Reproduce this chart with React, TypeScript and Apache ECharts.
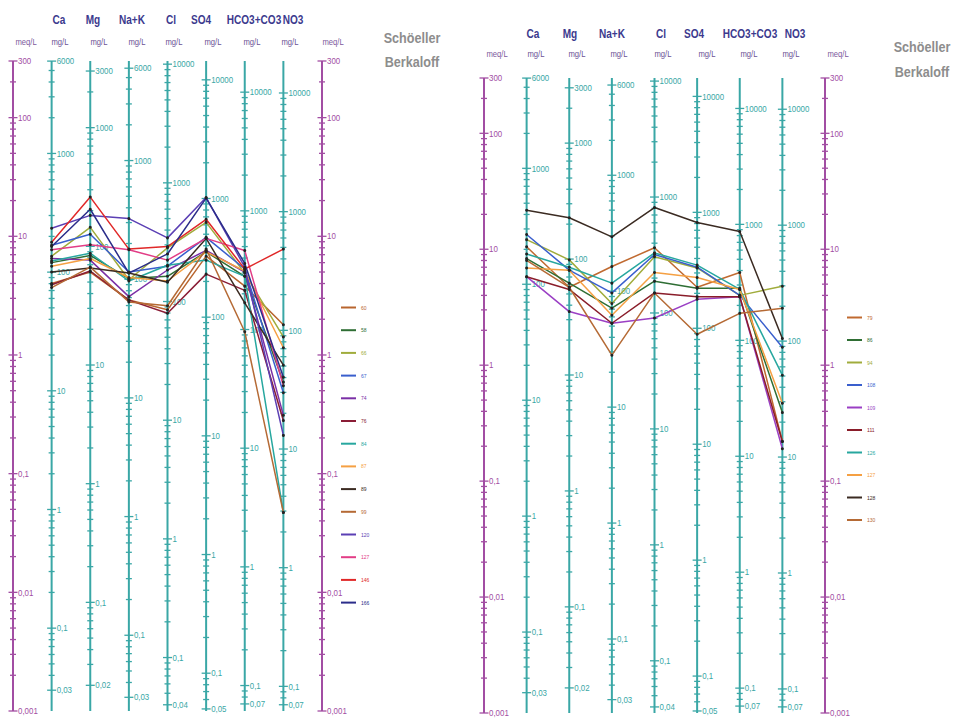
import React, { useEffect, useRef } from "react";
import * as echarts from "echarts";

// ---------- data ----------
const ION_NAMES = ["Ca", "Mg", "Na+K", "Cl", "SO4", "HCO3+CO3", "NO3"];
const EQ_WEIGHTS = [20.04, 12.15, 23.0, 35.45, 48.03, 61.02, 62.0];

const CA_TICK_LABELS = [6000, 1000, 100, 10, 1, 0.1, 0.03];
const MG_TICK_LABELS = [3000, 1000, 100, 10, 1, 0.1, 0.02];
const NAK_TICK_LABELS = [6000, 1000, 100, 10, 1, 0.1, 0.03];
const CL_TICK_LABELS = [10000, 1000, 100, 10, 1, 0.1, 0.04];
const SO4_TICK_LABELS = [10000, 1000, 100, 10, 1, 0.1, 0.05];
const HCO3_TICK_LABELS = [10000, 1000, 100, 10, 1, 0.1, 0.07];
const NO3_TICK_LABELS = [10000, 1000, 100, 10, 1, 0.1, 0.07];
const ION_TICK_LABELS = [
  CA_TICK_LABELS, MG_TICK_LABELS, NAK_TICK_LABELS, CL_TICK_LABELS,
  SO4_TICK_LABELS, HCO3_TICK_LABELS, NO3_TICK_LABELS,
];
const MEQ_TICK_LABELS = [300, 100, 10, 1, 0.1, 0.01, 0.001];
const MEQ_MIN = 0.001;
const MEQ_MAX = 300;

// left diagram (meq/L: Ca, Mg, Na+K, Cl, SO4, HCO3+CO3, NO3)
const LEFT_SAMPLES = ["60", "58", "66", "67", "74", "76", "84", "87", "89", "99", "120", "127", "146", "166"];
const LEFT_COLORS = ["#b8652e", "#2f6e34", "#a0ac3c", "#3a5fcd", "#7a2fa6", "#8a1d36", "#27a79f", "#f5a043", "#3b2b22", "#b56a35", "#5b3fb4", "#e23d86", "#e02828", "#2b2d8a"];
const LEFT_VALUES = [
  [4.0, 5.0, 2.9, 2.4, 6.8, 3.8, 1.8],
  [6.0, 6.9, 4.4, 4.6, 7.4, 4.6, 0.59],
  [6.8, 11.9, 4.3, 8.0, 13.1, 4.9, 1.42],
  [8.4, 10.4, 5.0, 5.6, 9.8, 5.3, 0.48],
  [6.5, 6.3, 3.1, 5.2, 7.6, 5.0, 0.31],
  [3.9, 5.1, 2.9, 2.25, 4.8, 3.5, 0.28],
  [6.2, 7.2, 4.2, 5.7, 6.3, 4.6, 0.047],
  [5.6, 6.5, 4.5, 4.2, 7.4, 5.1, 1.15],
  [5.0, 5.4, 4.9, 4.1, 9.6, 2.75, 0.82],
  [3.7, 5.5, 2.8, 2.6, 7.8, 1.57, 0.047],
  [11.7, 15.0, 14.1, 9.7, 21.2, 5.5, 0.21],
  [7.7, 8.5, 7.7, 6.3, 9.6, 7.6, 0.55],
  [8.9, 21.4, 7.8, 8.2, 13.9, 5.3, 7.8],
  [8.2, 16.9, 4.9, 7.1, 21.0, 5.9, 0.65],
];

// right diagram
const RIGHT_SAMPLES = ["79", "86", "94", "108", "109", "111", "126", "127", "128", "130"];
const RIGHT_COLORS = ["#c06a30", "#2f6e34", "#a0ac3c", "#3a5fcd", "#9a3fc4", "#8a1d2a", "#27a79f", "#f5a043", "#3b2b22", "#b56a35"];
const RIGHT_VALUES = [
  [10.5, 4.7, 7.1, 10.3, 4.7, 6.3, 0.22],
  [8.3, 5.1, 3.1, 5.3, 4.6, 4.6, 0.39],
  [12.1, 8.1, 3.4, 8.6, 6.9, 4.0, 4.8],
  [13.4, 6.6, 4.2, 9.0, 7.0, 4.0, 1.43],
  [5.8, 2.9, 2.3, 2.55, 3.7, 3.9, 0.19],
  [5.8, 4.5, 2.3, 4.2, 3.9, 3.9, 0.22],
  [9.1, 7.0, 5.1, 9.3, 7.3, 4.5, 0.82],
  [6.9, 6.6, 2.7, 6.3, 5.7, 4.5, 0.47],
  [21.7, 18.7, 12.8, 22.9, 17.0, 14.2, 1.7],
  [8.0, 4.7, 1.22, 4.2, 1.85, 2.8, 3.1],
];

const TITLE_LINES = ["Schöeller", "Berkaloff"];

// ---------- styling / layout ----------
const TEAL = "#3aa7a6";
const PURPLE = "#a24ea3";
const HEAD = "#3c3a8e";
const UNIT = "#6b4f94";
const NARROW = "'Liberation Sans Narrow', 'Liberation Sans', Arial, sans-serif";

const PANELS = [
  {
    key: "L", names: LEFT_SAMPLES, colors: LEFT_COLORS, values: LEFT_VALUES,
    grid: { left: 13, top: 61, width: 309, height: 650 },
    legend: { left: 336, top: 296, gap: 9.7 },
    headY: 20, headX: [59, 93, 132, 171, 201, 254, 293],
    unitY: 42, unitX: [26, 60, 99, 137, 174, 213, 252, 290, 333],
    titleX: 412, titleY: [38, 62],
  },
  {
    key: "R", names: RIGHT_SAMPLES, colors: RIGHT_COLORS, values: RIGHT_VALUES,
    grid: { left: 484, top: 78, width: 341, height: 635 },
    legend: { left: 842, top: 306, gap: 9.5 },
    headY: 34, headX: [533, 570, 612, 661, 694, 750, 795],
    unitY: 54, unitX: [497, 536, 577, 619, 663, 707, 749, 791, 838],
    titleX: 922, titleY: [47, 72],
  },
];

function fmt(v: number): string {
  return String(v).replace(".", ",");
}

function findLabel(list: number[], v: number) {
  return list.find((l) => Math.abs(l - v) / l < 1e-6);
}

function buildAxisData() {
  const data: number[][] = [];
  const labels: string[] = [];
  for (let x = 0; x <= 8; x++) {
    data.push([x, MEQ_MIN, 2]);
    labels.push("");
  }
  for (const x of [0, 8]) {
    for (let n = -3; n <= 2; n++) {
      for (let k = 1; k <= 9; k++) {
        const v = k * Math.pow(10, n);
        if (v > MEQ_MAX * 1.0001) continue;
        const lab = findLabel(MEQ_TICK_LABELS, v);
        data.push([x, v, lab !== undefined ? 1 : 0]);
        labels.push(lab !== undefined ? fmt(lab) : "");
      }
    }
  }
  for (let i = 0; i < 7; i++) {
    const ew = EQ_WEIGHTS[i];
    for (let n = -2; n <= 5; n++) {
      for (let k = 1; k <= 9; k++) {
        const mg = k * Math.pow(10, n);
        const meq = mg / ew;
        if (meq < MEQ_MIN * 0.9999 || meq > MEQ_MAX * 1.0001) continue;
        const lab = findLabel(ION_TICK_LABELS[i], mg);
        data.push([i + 1, meq, lab !== undefined ? 1 : 0]);
        labels.push(lab !== undefined ? fmt(lab) : "");
      }
    }
  }
  return { data, labels };
}

function buildOption() {
  const grids: any[] = [];
  const xAxes: any[] = [];
  const yAxes: any[] = [];
  const series: any[] = [];
  const legends: any[] = [];
  const graphics: any[] = [];
  const axisData = buildAxisData();

  PANELS.forEach((p, pi) => {
    grids.push({ ...p.grid, containLabel: false });
    xAxes.push({ type: "value", gridIndex: pi, min: 0, max: 8, show: false });
    yAxes.push({ type: "log", logBase: 10, gridIndex: pi, min: MEQ_MIN, max: MEQ_MAX, show: false });

    series.push({
      type: "custom",
      name: "axes" + p.key,
      xAxisIndex: pi,
      yAxisIndex: pi,
      silent: true,
      clip: false,
      z: 1,
      encode: { x: 0, y: 1 },
      data: axisData.data,
      renderItem: (params: any, api: any) => {
        const idx = params.dataIndex;
        const x = api.value(0);
        const v = api.value(1);
        const kind = api.value(2);
        const isMeq = x === 0 || x === 8;
        const color = isMeq ? PURPLE : TEAL;
        if (kind === 2) {
          const a = api.coord([x, MEQ_MIN]);
          const b = api.coord([x, MEQ_MAX]);
          return {
            type: "line",
            shape: { x1: a[0], y1: a[1], x2: b[0], y2: b[1] },
            style: { stroke: color, lineWidth: 2 },
          };
        }
        const pt = api.coord([x, v]);
        const half = kind === 1 ? 4.5 : 3;
        const children: any[] = [
          {
            type: "line",
            shape: { x1: pt[0] - half, y1: pt[1], x2: pt[0] + half, y2: pt[1] },
            style: { stroke: color, lineWidth: 1.3 },
          },
        ];
        const text = axisData.labels[idx];
        if (text) {
          children.push({
            type: "text",
            x: pt[0] + 5,
            y: pt[1],
            scaleX: 0.88,
            style: {
              text,
              fill: color,
              fontSize: 9,
              fontFamily: NARROW,
              align: "left",
              verticalAlign: "middle",
            },
          });
        }
        return { type: "group", children };
      },
    });

    p.names.forEach((n, si) => {
      series.push({
        type: "line",
        name: p.key + n,
        xAxisIndex: pi,
        yAxisIndex: pi,
        data: p.values[si].map((v, i) => [i + 1, v]),
        symbol: "circle",
        symbolSize: 3,
        showSymbol: true,
        lineStyle: { color: p.colors[si], width: 1.5 },
        itemStyle: { color: "#222" },
        z: 3,
      });
    });

    legends.push({
      orient: "vertical",
      left: p.legend.left,
      top: p.legend.top,
      itemWidth: 15,
      itemHeight: 2,
      itemGap: p.legend.gap,
      icon: "rect",
      selectedMode: false,
      formatter: (name: string) => name.slice(1),
      textStyle: { fontSize: 5, lineHeight: 7, padding: [0, 0, 6, 0], fontFamily: NARROW },
      data: p.names.map((n, i) => ({
        name: p.key + n,
        itemStyle: { color: p.colors[i] },
        textStyle: { color: p.colors[i], fontSize: 5, lineHeight: 7, padding: [0, 0, 6, 0] },
      })),
    });

    ION_NAMES.forEach((ion, i) => {
      graphics.push({
        type: "text",
        x: p.headX[i],
        y: p.headY,
        scaleX: 0.84,
        style: {
          text: ion, fill: HEAD, font: "bold 12px " + NARROW,
          align: "center", verticalAlign: "middle",
        },
      });
    });
    p.unitX.forEach((ux, i) => {
      const isMeq = i === 0 || i === p.unitX.length - 1;
      graphics.push({
        type: "text",
        x: ux,
        y: p.unitY,
        scaleX: 0.9,
        style: {
          text: isMeq ? "meq/L" : "mg/L", fill: isMeq ? "#7d5a9c" : UNIT,
          font: "8.5px " + NARROW, align: "center", verticalAlign: "middle",
        },
      });
    });
    TITLE_LINES.forEach((t, i) => {
      graphics.push({
        type: "text",
        x: p.titleX,
        y: p.titleY[i],
        scaleX: 0.9,
        style: {
          text: t, fill: "#8d8d8d", font: "bold 14px " + NARROW,
          align: "center", verticalAlign: "middle",
        },
      });
    });
  });

  return {
    animation: false,
    backgroundColor: "#ffffff",
    grid: grids,
    xAxis: xAxes,
    yAxis: yAxes,
    legend: legends,
    graphic: graphics,
    series,
  };
}

export default function App() {
  const ref = useRef<HTMLDivElement>(null);
  useEffect(() => {
    if (!ref.current) return;
    const chart = echarts.init(ref.current, undefined, { renderer: "svg" });
    chart.setOption(buildOption() as any);
    return () => chart.dispose();
  }, []);
  return (
    <div
      ref={ref}
      style={{ position: "absolute", left: 0, top: 0, width: 965, height: 722, background: "#fff" }}
    />
  );
}
